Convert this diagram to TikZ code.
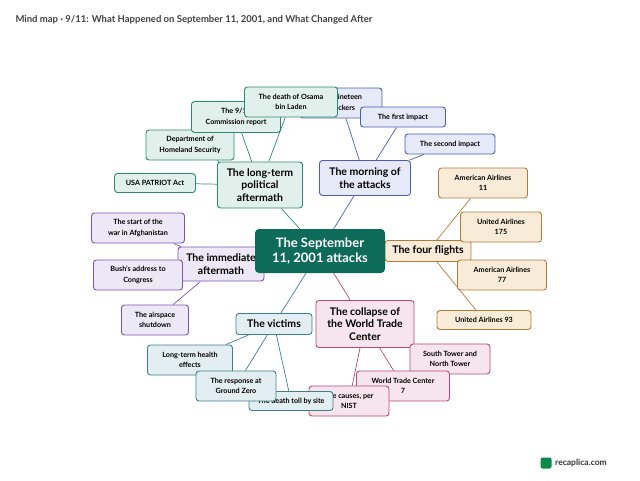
\documentclass[tikz,border=0pt]{standalone}
\usepackage{fontspec}
\setmainfont{Lato}
\usetikzlibrary{backgrounds}
\definecolor{hub}{HTML}{0E6B5A}
\definecolor{grnF}{HTML}{E1F0EA}\definecolor{grnD}{HTML}{2E8A72}
\definecolor{bluF}{HTML}{E6E9F7}\definecolor{bluD}{HTML}{4A5FB5}
\definecolor{orgF}{HTML}{F8ECD8}\definecolor{orgD}{HTML}{B07C3A}
\definecolor{purF}{HTML}{ECE8F6}\definecolor{purD}{HTML}{7A56B8}
\definecolor{tealF}{HTML}{E3EEF2}\definecolor{tealD}{HTML}{3F7F90}
\definecolor{pnkF}{HTML}{F6E5EC}\definecolor{pnkD}{HTML}{B84A7A}
\tikzset{
  box/.style={draw=#1D,fill=#1F,rounded corners=3pt,line width=0.9pt,align=center,font=\bfseries},
  branch/.style={box=#1,font=\bfseries\fontsize{10.5}{12.5}\selectfont,inner sep=4pt},
  leaf/.style={box=#1,font=\bfseries\fontsize{7.2}{10.5}\selectfont,inner sep=3pt},
  link/.style={draw=#1D,line width=0.7pt}
}
\begin{document}
\begin{tikzpicture}[x=1pt,y=-1pt]
\useasboundingbox (0,0) rectangle (640,480);
%Title
\node[anchor=west,font=\bfseries\fontsize{9.5}{11}\selectfont,text=black!75] (title) at (12,20) {Mind map · 9/11: What Happened on September 11, 2001, and What Changed After};
%Branches
\node[branch=grn,minimum width=85pt,minimum height=46pt] (polit) at (260,185) {The long-term\\political\\aftermath};
\node[branch=blu,minimum width=91pt,minimum height=35pt] (morn) at (365,178) {The morning of\\the attacks};
\node[branch=org,minimum width=86pt,minimum height=21pt] (flights) at (428,251) {The four flights};
\node[branch=pur,minimum width=86pt,minimum height=34pt] (immed) at (221,264) {The immediate\\aftermath};
\node[branch=teal,minimum width=76pt,minimum height=21pt] (vict) at (274,324) {The victims};
\node[branch=pnk,minimum width=98pt,minimum height=47pt] (wtc) at (365,324) {The collapse of\\the World Trade\\Center};
%Leaves
\node[leaf=grn,minimum width=81pt,minimum height=19pt] (patriot) at (155,183) {USA PATRIOT Act};
\node[leaf=grn,minimum width=88pt,minimum height=30pt] (dhs) at (190,145) {Department of\\Homeland Security};
\node[leaf=grn,minimum width=89pt,minimum height=31pt] (commis) at (236,117) {The 9/11\\Commission report};
\node[leaf=blu,minimum width=82pt,minimum height=30pt] (hijack) at (341,103) {The nineteen\\hijackers};
\node[leaf=grn,minimum width=93pt,minimum height=30pt] (osama) at (291,102) {The death of Osama\\bin Laden};
\node[leaf=blu,minimum width=85pt,minimum height=20pt] (first) at (403,117) {The first impact};
\node[leaf=blu,minimum width=90pt,minimum height=20pt] (second) at (450,144) {The second impact};
\node[leaf=org,minimum width=89pt,minimum height=30pt] (aa11) at (483,183) {American Airlines\\11};
\node[leaf=org,minimum width=81pt,minimum height=30pt] (ua175) at (501,227) {United Airlines\\175};
\node[leaf=org,minimum width=89pt,minimum height=30pt] (aa77) at (502,275) {American Airlines\\77};
\node[leaf=org,minimum width=94pt,minimum height=19pt] (ua93) at (484,320) {United Airlines 93};
\node[leaf=pur,minimum width=93pt,minimum height=30pt] (war) at (138,228) {The start of the\\war in Afghanistan};
\node[leaf=pur,minimum width=89pt,minimum height=30pt] (bush) at (138,275) {Bush's address to\\Congress};
\node[leaf=pur,minimum width=67pt,minimum height=30pt] (airsp) at (155,320) {The airspace\\shutdown};
\node[leaf=teal,minimum width=85pt,minimum height=30pt] (health) at (190,360) {Long-term health\\effects};
\node[leaf=pnk,minimum width=80pt,minimum height=30pt] (towers) at (450,359) {South Tower and\\North Tower};
\node[leaf=pnk,minimum width=93pt,minimum height=30pt] (wtc7) at (403,386) {World Trade Center\\7};
\node[leaf=pnk,minimum width=80pt,minimum height=30pt] (nist) at (349,401) {The causes, per\\NIST};
\node[leaf=teal,minimum width=84pt,minimum height=19pt] (toll) at (291,401) {The death toll by site};
\node[leaf=teal,minimum width=80pt,minimum height=30pt] (ground) at (236,386) {The response at\\Ground Zero};
%Hub
\node[fill=hub,text=white,rounded corners=4pt,font=\bfseries\fontsize{13}{15.5}\selectfont,align=center,minimum width=130pt,minimum height=44pt] (hubn) at (320,251) {The September\\11, 2001 attacks};
%Links
\begin{scope}[on background layer]
\draw[link=grn] (hubn) -- (polit);
\draw[link=blu] (hubn) -- (morn);
\draw[link=org] (hubn) -- (flights);
\draw[link=pur] (hubn) -- (immed);
\draw[link=teal] (hubn) -- (vict);
\draw[link=pnk] (hubn) -- (wtc);
\foreach \n in {patriot,dhs,commis,osama} \draw[link=grn] (polit) -- (\n);
\foreach \n in {hijack,first,second} \draw[link=blu] (morn) -- (\n);
\foreach \n in {aa11,ua175,aa77,ua93} \draw[link=org] (flights) -- (\n);
\foreach \n in {war,bush,airsp} \draw[link=pur] (immed) -- (\n);
\foreach \n in {health,ground,toll} \draw[link=teal] (vict) -- (\n);
\foreach \n in {towers,wtc7,nist} \draw[link=pnk] (wtc) -- (\n);
\end{scope}
%Logo
\node[fill=hub!80!green,rounded corners=2pt,minimum size=11pt,inner sep=0pt] (logo) at (546,463) {};
\node[anchor=west,font=\bfseries\fontsize{8.5}{10}\selectfont,text=black!80] (brand) at (logo.east) {recaplica.com};
\end{tikzpicture}
\end{document}
